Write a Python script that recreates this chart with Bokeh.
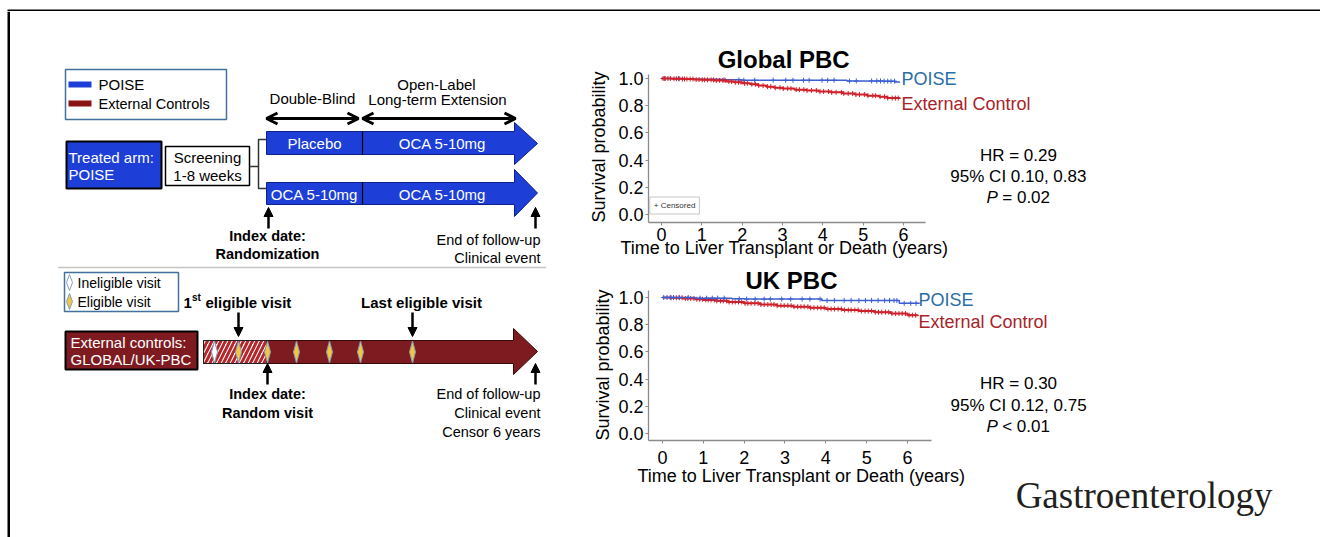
import numpy as np
from bokeh.plotting import figure
from bokeh.layouts import row, column
from bokeh.models import (Range1d, Label, Arrow, OpenHead, NormalHead, FixedTicker,
                          NumeralTickFormatter, Title)
from bokeh.embed import file_html
from bokeh.resources import INLINE

FONT = "Liberation Sans"

# ---------------- Kaplan-Meier data ----------------
glob_ext_t = [0, 0.25, 0.5, 0.8, 1.0, 1.3, 1.6, 1.8, 2.0, 2.2, 2.4, 2.6, 2.8, 3.0, 3.3, 3.6,
              3.9, 4.2, 4.5, 4.8, 5.1, 5.4, 5.6, 5.9]
glob_ext_s = [1.0, 0.998, 0.996, 0.992, 0.99, 0.986, 0.978, 0.972, 0.965, 0.958, 0.948, 0.94,
              0.932, 0.926, 0.918, 0.912, 0.904, 0.898, 0.89, 0.882, 0.874, 0.866, 0.856, 0.85]
glob_ext_cens = [0.04, 0.09, 0.16, 0.22, 0.31, 0.37, 0.44, 0.52, 0.57, 0.63, 0.71, 0.78, 0.86,
                 0.93, 1.01, 1.07, 1.14, 1.23, 1.29, 1.36, 1.44, 1.52, 1.58, 1.67, 1.74, 1.83,
                 1.91, 1.97, 2.06, 2.13, 2.24, 2.33, 2.41, 2.52, 2.63, 2.71, 2.82, 2.94, 3.02,
                 3.13, 3.21, 3.34, 3.42, 3.53, 3.61, 3.72, 3.84, 3.93, 4.02, 4.14, 4.22, 4.33,
                 4.46, 4.52, 4.63, 4.74, 4.82, 4.91, 5.03, 5.12, 5.24, 5.31, 5.42, 5.53, 5.61,
                 5.72, 5.8, 5.87]
glob_poi_t = [0, 0.6, 1.5, 2.0, 4.6, 5.5, 5.8, 5.9]
glob_poi_s = [1.0, 0.995, 0.99, 0.987, 0.982, 0.98, 0.975, 0.968]
glob_poi_cens = [0.08, 0.42, 1.55, 1.92, 2.04, 2.31, 2.77, 3.08, 3.26, 3.52, 3.66, 3.98, 4.12,
                 4.28, 4.66, 4.83, 5.21, 5.34, 5.43, 5.52, 5.61, 5.69, 5.78]

uk_ext_t = [0, 0.2, 0.5, 0.8, 1.0, 1.3, 1.6, 2.0, 2.4, 2.8, 3.2, 3.6, 4.0, 4.4, 4.8, 5.2,
            5.6, 6.0, 6.25]
uk_ext_s = [1.0, 0.998, 0.993, 0.987, 0.982, 0.975, 0.967, 0.957, 0.948, 0.94, 0.932, 0.924,
            0.915, 0.908, 0.9, 0.892, 0.882, 0.87, 0.862]
uk_ext_cens = [0.21, 0.27, 0.34, 0.41, 0.48, 0.56, 0.62, 0.69, 0.77, 0.84, 0.91, 0.98, 1.06,
               1.12, 1.19, 1.27, 1.33, 1.42, 1.49, 1.57, 1.63, 1.71, 1.78, 1.86, 1.94, 2.02,
               2.09, 2.17, 2.26, 2.34, 2.41, 2.49, 2.58, 2.66, 2.73, 2.81, 2.9, 2.98, 3.07,
               3.15, 3.22, 3.31, 3.39, 3.47, 3.56, 3.63, 3.71, 3.8, 3.88, 3.96, 4.05, 4.13,
               4.21, 4.3, 4.38, 4.46, 4.55, 4.62, 4.71, 4.79, 4.87, 4.96, 5.04, 5.12, 5.21,
               5.29, 5.37, 5.46, 5.54, 5.62, 5.71, 5.79, 5.87, 5.95, 6.04, 6.12, 6.2]
uk_poi_t = [0, 0.8, 1.7, 2.0, 3.9, 5.8, 6.3]
uk_poi_s = [1.0, 0.995, 0.99, 0.988, 0.978, 0.957, 0.957]
uk_poi_cens = [0.03, 0.11, 0.19, 0.27, 0.41, 0.63, 0.92, 1.08, 1.22, 1.35, 1.51, 1.88, 2.06,
               2.27, 2.49, 2.64, 2.92, 3.14, 3.42, 3.61, 3.86, 4.03, 4.21, 4.45, 4.62, 4.81,
               4.97, 5.12, 5.28, 5.44, 5.56, 5.67, 5.74, 5.92, 6.08, 6.21]

glob_stats = ["HR = 0.29", "95% CI 0.10, 0.83", "= 0.02"]
uk_stats = ["HR = 0.30", "95% CI 0.12, 0.75", "< 0.01"]
x_ticks = [0, 1, 2, 3, 4, 5, 6]
y_ticks = [0.0, 0.2, 0.4, 0.6, 0.8, 1.0]
X_LABEL = "Time to Liver Transplant or Death (years)"
Y_LABEL = "Survival probability"

BLUE_LINE = "#3d5fd0"
RED_LINE = "#d0202a"
BLUE_TXT = "#2a6ea8"
RED_TXT = "#a8232a"

DW = 568          # width of the study-design panel
KW = 1320 - DW    # width of the survival panels


def step_val(t, s, q):
    idx = np.searchsorted(np.array(t), np.array(q), side="right") - 1
    return np.array(s)[idx]


def lab(p, x, y, s, size=15, color="black", align="center", style="normal", font=FONT,
        baseline="middle", **kw):
    p.add_layout(Label(x=x, y=y, text=s, text_font=font, text_font_size=f"{size}px",
                       text_color=color, text_align=align, text_baseline=baseline,
                       text_font_style=style, **kw))


def km_fig(height, xr, yr, xb, yb, mb, curves, std_x, xl_off, xl_so, yl_off, yl_so):
    p = figure(width=KW, height=height, x_range=Range1d(*xr), y_range=Range1d(*yr),
               output_backend="svg", toolbar_location=None, title=None,
               min_border_left=mb[0], min_border_right=mb[1], min_border_top=mb[2],
               min_border_bottom=mb[3])
    p.outline_line_color = None
    p.grid.visible = False
    for t, s, c, cens, w in curves:
        p.step(t, s, mode="after", line_color=c, line_width=w)
        p.scatter(cens, step_val(t, s, cens), marker="cross", size=5, line_color=c,
                  line_width=1)
    for ax in (p.xaxis[0], p.yaxis[0]):
        ax.axis_line_color = "#8c8c8c"
        ax.axis_line_width = 1.3
        ax.major_tick_line_color = "#8c8c8c"
        ax.major_tick_out = 3
        ax.major_tick_in = 0
        ax.minor_tick_line_color = None
        ax.major_label_text_font = FONT
        ax.major_label_text_font_size = "18px"
        ax.major_label_text_color = "black"
    p.xaxis.bounds = xb
    p.yaxis.bounds = yb
    p.xaxis.ticker = FixedTicker(ticks=x_ticks)
    p.yaxis.ticker = FixedTicker(ticks=y_ticks)
    p.yaxis.formatter = NumeralTickFormatter(format="0.0")
    p.xaxis.major_label_standoff = std_x
    p.yaxis.major_label_standoff = 2
    p.add_layout(Title(text=X_LABEL, align="left", offset=xl_off, standoff=xl_so,
                       text_font=FONT, text_font_size="18px", text_font_style="normal",
                       text_color="black"), "below")
    p.add_layout(Title(text=Y_LABEL, align="left", offset=yl_off, standoff=yl_so,
                       text_font=FONT, text_font_size="18px", text_font_style="normal",
                       text_color="black"), "left")
    return p


# ---------------- top frame strip ----------------
strip = figure(width=1320, height=11, x_range=Range1d(0, 1320), y_range=Range1d(11, 0),
               output_backend="svg", toolbar_location=None, title=None, min_border=0,
               x_axis_location=None, y_axis_location=None)
strip.grid.visible = False
strip.outline_line_color = None
strip.quad(left=7, right=1320, top=8, bottom=10.5, fill_color="black", line_color=None)

# ---------------- Global PBC ----------------
# px -> data: x = (px - 661) / 40.33 ; y = (214 - py) / 136   (frame 648..1272 x, 11..222 y)
km1 = km_fig(254, (-0.322, 15.15), (-0.0588, 1.4926), (-0.347, 6.546), (-0.0588, 1.0294),
             (648 - DW, 48, 0, 43),
             [(glob_poi_t, glob_poi_s, BLUE_LINE, glob_poi_cens, 1.5),
              (glob_ext_t, glob_ext_s, RED_LINE, glob_ext_cens, 2)],
             2, -28, -15, 0, 13)
lab(km1, 3.03, 1.14, "Global PBC", size=24, style="bold")
lab(km1, 5.95, 0.993, "POISE", size=18, color=BLUE_TXT, align="left")
lab(km1, 5.95, 0.809, "External Control", size=18, color=RED_TXT, align="left")
lab(km1, 8.85, 0.434, glob_stats[0], size=17)
lab(km1, 8.85, 0.279, glob_stats[1], size=17)
lab(km1, 8.34, 0.125, "P", size=17, align="right", style="italic")
lab(km1, 8.45, 0.125, glob_stats[2], size=17, align="left")
lab(km1, -0.29, 0.066, "+ Censored", size=8, align="left", color="#333333",
    border_line_color="#c8c8c8", background_fill_color="white", padding=4)

# ---------------- UK PBC ----------------
# px -> data: x = (px - 662) / 40.83 ; y = (433 - py) / 136   (frame 648..1272 x, 265..440 y)
km2 = km_fig(272, (-0.343, 14.94), (-0.0515, 1.235), (-0.343, 6.588), (-0.0515, 1.051),
             (648 - DW, 48, 0, 97),
             [(uk_ext_t, uk_ext_s, RED_LINE, uk_ext_cens, 2),
              (uk_poi_t, uk_poi_s, BLUE_LINE, uk_poi_cens, 1.5)],
             7, -11, -6, 0, 5)
lab(km2, 3.16, 1.125, "UK PBC", size=24, style="bold")
lab(km2, 6.27, 0.978, "POISE", size=18, color=BLUE_TXT, align="left")
lab(km2, 6.27, 0.816, "External Control", size=18, color=RED_TXT, align="left")
lab(km2, 8.72, 0.368, uk_stats[0], size=17)
lab(km2, 8.72, 0.206, uk_stats[1], size=17)
lab(km2, 8.21, 0.051, "P", size=17, align="right", style="italic")
lab(km2, 8.32, 0.051, uk_stats[2], size=17, align="left")
km2.add_layout(Title(text="Gastroenterology", align="right", text_font="Liberation Serif",
                     text_font_size="37px", text_font_style="normal",
                     text_color="#231f20", standoff=-20), "below")

# ---------------- Study design diagram (pixel space) ----------------
BLUE = "#1d3fd8"
DRED = "#7e1b21"
LEG_EDGE = "#41719c"
YEL = "#f4c542"

d = figure(width=DW, height=526, x_range=Range1d(0, DW), y_range=Range1d(537, 11),
           output_backend="svg", toolbar_location=None, title=None, min_border=0,
           x_axis_location=None, y_axis_location=None)
d.grid.visible = False
d.outline_line_color = None

# outer frame (left)
d.quad(left=7, right=9.5, top=11, bottom=537, fill_color="black", line_color=None)

# legend 1
d.quad(left=65, right=226, top=69, bottom=119, fill_color="white", line_color=LEG_EDGE,
       line_width=1.5)
d.quad(left=68, right=91, top=81, bottom=87, fill_color=BLUE, line_color=None)
d.quad(left=68, right=91, top=100, bottom=106, fill_color="#8b1414", line_color=None)
lab(d, 98, 84, "POISE", size=15, align="left")
lab(d, 98, 103, "External Controls", size=14.5, align="left")

# period headers
lab(d, 312, 98, "Double-Blind", size=15)
lab(d, 436, 84, "Open-Label", size=15)
lab(d, 437, 99, "Long-term Extension", size=15)
for xs, xe in [(266, 358), (362, 515)]:
    d.add_layout(Arrow(start=OpenHead(size=11, line_width=3),
                       end=OpenHead(size=11, line_width=3),
                       x_start=xs, y_start=118, x_end=xe, y_end=118, line_width=3))

# treated arm / screening boxes
d.quad(left=66, right=161, top=141, bottom=188, fill_color=BLUE, line_color="black",
       line_width=2)
lab(d, 68, 157, "Treated arm:", size=15, color="white", align="left")
lab(d, 68, 174, "POISE", size=15, color="white", align="left")
d.quad(left=165, right=249, top=146, bottom=185, fill_color="white", line_color="black",
       line_width=1.5)
lab(d, 207, 157, "Screening", size=15)
lab(d, 207, 175, "1-8 weeks", size=15)
d.line([249, 258], [166, 166], line_color="#333333", line_width=1.5)
d.line([266, 258, 258, 266], [139, 139, 188, 188], line_color="#333333", line_width=1.5)


def arrow_poly(x0, xb, xt, yb0, yb1, yh0, yh1):
    ym = (yh0 + yh1) / 2
    return [x0, xb, xb, xt, xb, xb, x0], [yb0, yb0, yh0, ym, yh1, yb1, yb1]


ax1, ay1 = arrow_poly(266, 514, 537, 131, 154, 122, 164)
ax2, ay2 = arrow_poly(266, 514, 537, 182, 204, 169, 216)
d.patches([ax1, ax2], [ay1, ay2], fill_color=BLUE, line_color="#10208a", line_width=1)
d.segment(x0=[362, 362], y0=[131, 182], x1=[362, 362], y1=[154, 204], line_color="black",
          line_width=1.2)
lab(d, 314, 143, "Placebo", size=15, color="white")
lab(d, 442, 143, "OCA 5-10mg", size=15, color="white")
lab(d, 314, 194, "OCA 5-10mg", size=15, color="white")
lab(d, 442, 194, "OCA 5-10mg", size=15, color="white")


def up_arrow(x, y0, y1):
    d.add_layout(Arrow(end=NormalHead(size=9, fill_color="black", line_color="black"),
                       x_start=x, y_start=y0, x_end=x, y_end=y1, line_width=2.5))


up_arrow(268, 228, 207)
up_arrow(535, 228, 207)
lab(d, 267, 235, "Index date:", size=14.5, style="bold")
lab(d, 267, 253, "Randomization", size=14.5, style="bold")
lab(d, 540, 239, "End of follow-up", size=14.5, align="right")
lab(d, 540, 257, "Clinical event", size=14.5, align="right")

# separator
d.line([58, 546], [267, 267], line_color="#8a8a8a", line_width=1.5, line_dash="1 1")

# legend 2
d.quad(left=64, right=178, top=272, bottom=311, fill_color="white", line_color=LEG_EDGE,
       line_width=1.5)


def diamonds(xs, yc, hw, hh, fill):
    d.patches([[x - hw, x, x + hw, x] for x in xs],
              [[yc, yc - hh, yc, yc + hh] for _ in xs],
              fill_color=fill, line_color="#7f9fc0", line_width=1)


diamonds([69], 282, 3, 8, "white")
diamonds([69], 301, 3, 8, YEL)
lab(d, 77, 282, "Ineligible visit", size=14, align="left")
lab(d, 77, 301, "Eligible visit", size=14, align="left")

# visit labels
lab(d, 183, 302, "1", size=15, style="bold", align="left")
lab(d, 191.5, 297, "st", size=10, style="bold", align="left")
lab(d, 205, 302, "eligible visit", size=15, style="bold", align="left")
lab(d, 421, 302, "Last eligible visit", size=15, style="bold")
for x in (238, 412):
    d.add_layout(Arrow(end=NormalHead(size=9, fill_color="black", line_color="black"),
                       x_start=x, y_start=312, x_end=x, y_end=336, line_width=2.5))

# external controls box
d.quad(left=65, right=197, top=331, bottom=369, fill_color=DRED, line_color="black",
       line_width=2)
lab(d, 70, 342, "External controls:", size=15, color="white", align="left")
lab(d, 70, 359, "GLOBAL/UK-PBC", size=15, color="white", align="left")

# red timeline arrow
rx, ry = arrow_poly(203, 513, 537, 340, 363, 328, 374)
d.patch(rx, ry, fill_color=DRED, line_color="#3a0a0a", line_width=1)
d.quad(left=203, right=266, top=340, bottom=363, fill_color="white", line_color="#222222",
       line_width=1, hatch_pattern="/", hatch_color="#b3262c", hatch_weight=3,
       hatch_scale=9)
diamonds([214], 351.5, 3, 11, "white")
diamonds([238, 267, 296, 329, 360, 412], 351.5, 3, 11, YEL)

up_arrow(267, 384, 363)
up_arrow(535, 384, 363)
lab(d, 267, 393, "Index date:", size=14.5, style="bold")
lab(d, 267, 412, "Random visit", size=14.5, style="bold")
lab(d, 540, 393, "End of follow-up", size=14.5, align="right")
lab(d, 540, 412, "Clinical event", size=14.5, align="right")
lab(d, 540, 431, "Censor 6 years", size=14.5, align="right")

layout = column(strip, row(d, column(km1, km2)))
open("out.html", "w").write(file_html(layout, INLINE))
